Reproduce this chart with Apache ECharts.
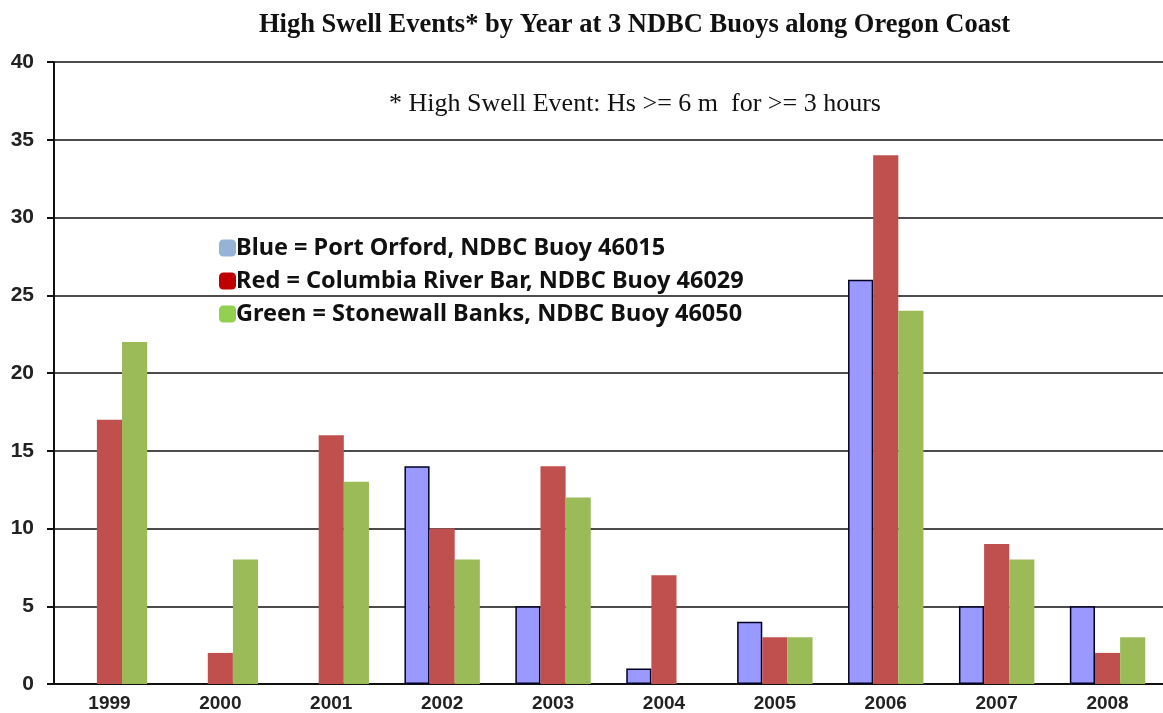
<!DOCTYPE html>
<html>
<head>
<meta charset="utf-8">
<script src="https://cdn.jsdelivr.net/npm/echarts@6/dist/echarts.min.js"></script>
<style>
  html, body { margin: 0; padding: 0; background: #fff; }
  #chart { width: 1163px; height: 713px; }
</style>
</head>
<body>
<div id="chart"></div>
<script>
// values
const years = ['1999', '2000', '2001', '2002', '2003', '2004', '2005', '2006', '2007', '2008'];
const portOrford = ['-', '-', '-', 14, 5, 1, 4, 26, 5, 5];
const columbiaBar = [17, 2, 16, 10, 14, 7, 3, 34, 9, 2];
const stonewall = [22, 8, 13, 8, 12, '-', 3, 24, 8, 3];
const seriesNames = [
  'Blue = Port Orford, NDBC Buoy 46015',
  'Red = Columbia River Bar, NDBC Buoy 46029',
  'Green = Stonewall Banks, NDBC Buoy 46050'
];

const chart = echarts.init(document.getElementById('chart'));

const option = {
  animation: false,
  title: [
    {
      text: 'High Swell Events* by Year at 3 NDBC Buoys along Oregon Coast',
      left: 254,
      top: 7,
      textStyle: { fontFamily: 'Liberation Serif', fontWeight: 'bold', fontSize: 26.5, color: '#111' }
    },
    {
      text: '* High Swell Event: Hs >= 6 m  for >= 3 hours',
      left: 384,
      top: 86,
      textStyle: { fontFamily: 'Liberation Serif', fontWeight: 'normal', fontSize: 26, color: '#111' }
    }
  ],
  legend: {
    orient: 'vertical',
    left: 214,
    top: 231,
    itemGap: 9,
    itemWidth: 17,
    itemHeight: 17,
    icon: 'roundRect',
    selectedMode: false,
    textStyle: { fontFamily: 'Noto Sans', fontWeight: 'bold', fontSize: 23.5, color: '#111', padding: [6, 0, 0, -5] },
    data: [
      { name: seriesNames[0], itemStyle: { color: '#95b3d7', borderWidth: 0 } },
      { name: seriesNames[1], itemStyle: { color: '#c00000', borderWidth: 0 } },
      { name: seriesNames[2], itemStyle: { color: '#92d050', borderWidth: 0 } }
    ]
  },
  grid: { left: 54, right: 0, top: 62, bottom: 29, containLabel: false },
  xAxis: {
    type: 'category',
    data: years,
    axisLine: { lineStyle: { color: '#111', width: 2 } },
    axisTick: { show: false },
    axisLabel: { fontFamily: 'Liberation Sans', fontWeight: 'bold', fontSize: 19, color: '#222', margin: 10 }
  },
  yAxis: {
    type: 'value',
    min: 0,
    max: 40,
    interval: 5,
    axisLine: { show: true, lineStyle: { color: '#111', width: 2 } },
    axisTick: { show: true, length: 7, lineStyle: { color: '#111', width: 2 } },
    axisLabel: { fontFamily: 'Liberation Sans', fontWeight: 'bold', fontSize: 21, color: '#222', margin: 20 },
    splitLine: { lineStyle: { color: '#111', width: 1.6 } }
  },
  series: [
    {
      name: seriesNames[0],
      type: 'bar',
      data: portOrford,
      barGap: '0%',
      barCategoryGap: '32%',
      itemStyle: { color: '#9999ff', borderColor: '#000022', borderWidth: 1.5 }
    },
    {
      name: seriesNames[1],
      type: 'bar',
      data: columbiaBar,
      itemStyle: { color: '#c0504d' }
    },
    {
      name: seriesNames[2],
      type: 'bar',
      data: stonewall,
      itemStyle: { color: '#9bbb59' }
    }
  ]
};

chart.setOption(option);
</script>
</body>
</html>
